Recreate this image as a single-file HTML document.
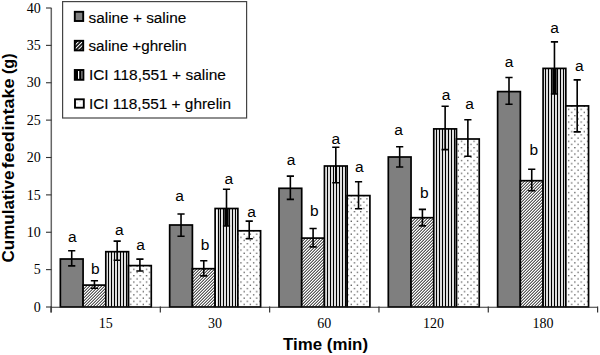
<!DOCTYPE html>
<html><head><meta charset="utf-8"><style>
html,body{margin:0;padding:0;background:#fff;}
svg{display:block;}
.tick{font-family:"Liberation Serif",serif;font-size:14px;fill:#000;}
.lab{font-family:"Liberation Sans",sans-serif;font-size:15.5px;fill:#000;}
.leg{font-family:"Liberation Sans",sans-serif;font-size:14px;fill:#000;stroke:#000;stroke-width:0.12;}
.ttl{font-family:"Liberation Sans",sans-serif;font-size:16.5px;font-weight:bold;fill:#000;}
</style></head><body>
<svg width="600" height="355" viewBox="0 0 600 355">
<defs>
<pattern id="hatch" patternUnits="userSpaceOnUse" x="0" y="0" width="3" height="3">
<rect x="0" y="0" width="3" height="3" fill="#fff"/>
<path d="M1.65 -4L-6.35 4M4.65 -4L-3.35 4M7.65 -4L-0.35 4M10.65 -4L2.65 4" stroke="#000" stroke-width="1.0" fill="none"/>
</pattern>
<pattern id="dots" patternUnits="userSpaceOnUse" x="0" y="-2" width="6.3" height="6.4">
<rect x="0" y="0" width="6.3" height="6.4" fill="#fff"/>
<rect x="1.0" y="1.9" width="1.2" height="1.2" fill="#3a3a3a"/>
<rect x="4.15" y="5.1" width="1.2" height="1.2" fill="#3a3a3a"/>
</pattern>
<pattern id="lhatch" patternUnits="userSpaceOnUse" x="0.8" y="0" width="2.7" height="2.7" patternTransform="rotate(45)">
<rect x="0" y="0" width="2.7" height="2.7" fill="#000"/><rect x="0" y="0" width="1.1" height="2.7" fill="#fff"/>
</pattern>
</defs>
<rect x="0" y="0" width="600" height="355" fill="#fff"/>
<rect x="60.35" y="259.00" width="22.73" height="48.00" fill="#7f7f7f"/>
<rect x="60.35" y="259.00" width="22.73" height="48.00" fill="none" stroke="#000" stroke-width="1.7"/>
<rect x="83.08" y="285.10" width="22.73" height="21.90" fill="url(#hatch)"/>
<rect x="83.08" y="285.10" width="22.73" height="21.90" fill="none" stroke="#000" stroke-width="1.7"/>
<rect x="105.81" y="251.70" width="22.73" height="55.30" fill="#fff"/>
<path d="M108.50 251.70V307.00M111.50 251.70V307.00M114.50 251.70V307.00M117.50 251.70V307.00M120.50 251.70V307.00M123.50 251.70V307.00M126.50 251.70V307.00" stroke="#000" stroke-width="1.25"/>
<rect x="105.81" y="251.70" width="22.73" height="55.30" fill="none" stroke="#000" stroke-width="1.7"/>
<rect x="128.54" y="265.60" width="22.73" height="41.40" fill="url(#dots)"/>
<rect x="128.54" y="265.60" width="22.73" height="41.40" fill="none" stroke="#000" stroke-width="1.7"/>
<rect x="169.67" y="225.00" width="22.73" height="82.00" fill="#7f7f7f"/>
<rect x="169.67" y="225.00" width="22.73" height="82.00" fill="none" stroke="#000" stroke-width="1.7"/>
<rect x="192.40" y="268.70" width="22.73" height="38.30" fill="url(#hatch)"/>
<rect x="192.40" y="268.70" width="22.73" height="38.30" fill="none" stroke="#000" stroke-width="1.7"/>
<rect x="215.13" y="208.50" width="22.73" height="98.50" fill="#fff"/>
<path d="M218.50 208.50V307.00M220.50 208.50V307.00M223.50 208.50V307.00M226.50 208.50V307.00M229.50 208.50V307.00M232.50 208.50V307.00M235.50 208.50V307.00" stroke="#000" stroke-width="1.25"/>
<rect x="215.13" y="208.50" width="22.73" height="98.50" fill="none" stroke="#000" stroke-width="1.7"/>
<rect x="237.86" y="230.80" width="22.73" height="76.20" fill="url(#dots)"/>
<rect x="237.86" y="230.80" width="22.73" height="76.20" fill="none" stroke="#000" stroke-width="1.7"/>
<rect x="278.99" y="188.30" width="22.73" height="118.70" fill="#7f7f7f"/>
<rect x="278.99" y="188.30" width="22.73" height="118.70" fill="none" stroke="#000" stroke-width="1.7"/>
<rect x="301.72" y="238.10" width="22.73" height="68.90" fill="url(#hatch)"/>
<rect x="301.72" y="238.10" width="22.73" height="68.90" fill="none" stroke="#000" stroke-width="1.7"/>
<rect x="324.45" y="166.00" width="22.73" height="141.00" fill="#fff"/>
<path d="M327.50 166.00V307.00M330.50 166.00V307.00M333.50 166.00V307.00M336.50 166.00V307.00M339.50 166.00V307.00M342.50 166.00V307.00M345.50 166.00V307.00" stroke="#000" stroke-width="1.25"/>
<rect x="324.45" y="166.00" width="22.73" height="141.00" fill="none" stroke="#000" stroke-width="1.7"/>
<rect x="347.18" y="195.60" width="22.73" height="111.40" fill="url(#dots)"/>
<rect x="347.18" y="195.60" width="22.73" height="111.40" fill="none" stroke="#000" stroke-width="1.7"/>
<rect x="388.31" y="157.00" width="22.73" height="150.00" fill="#7f7f7f"/>
<rect x="388.31" y="157.00" width="22.73" height="150.00" fill="none" stroke="#000" stroke-width="1.7"/>
<rect x="411.04" y="217.70" width="22.73" height="89.30" fill="url(#hatch)"/>
<rect x="411.04" y="217.70" width="22.73" height="89.30" fill="none" stroke="#000" stroke-width="1.7"/>
<rect x="433.77" y="128.90" width="22.73" height="178.10" fill="#fff"/>
<path d="M436.50 128.90V307.00M439.50 128.90V307.00M442.50 128.90V307.00M445.50 128.90V307.00M448.50 128.90V307.00M451.50 128.90V307.00M454.50 128.90V307.00" stroke="#000" stroke-width="1.25"/>
<rect x="433.77" y="128.90" width="22.73" height="178.10" fill="none" stroke="#000" stroke-width="1.7"/>
<rect x="456.50" y="139.00" width="22.73" height="168.00" fill="url(#dots)"/>
<rect x="456.50" y="139.00" width="22.73" height="168.00" fill="none" stroke="#000" stroke-width="1.7"/>
<rect x="497.63" y="91.60" width="22.73" height="215.40" fill="#7f7f7f"/>
<rect x="497.63" y="91.60" width="22.73" height="215.40" fill="none" stroke="#000" stroke-width="1.7"/>
<rect x="520.36" y="180.70" width="22.73" height="126.30" fill="url(#hatch)"/>
<rect x="520.36" y="180.70" width="22.73" height="126.30" fill="none" stroke="#000" stroke-width="1.7"/>
<rect x="543.09" y="68.40" width="22.73" height="238.60" fill="#fff"/>
<path d="M545.50 68.40V307.00M548.50 68.40V307.00M551.50 68.40V307.00M554.50 68.40V307.00M557.50 68.40V307.00M560.50 68.40V307.00M563.50 68.40V307.00" stroke="#000" stroke-width="1.25"/>
<rect x="543.09" y="68.40" width="22.73" height="238.60" fill="none" stroke="#000" stroke-width="1.7"/>
<rect x="565.82" y="105.90" width="22.73" height="201.10" fill="url(#dots)"/>
<rect x="565.82" y="105.90" width="22.73" height="201.10" fill="none" stroke="#000" stroke-width="1.7"/>
<path d="M68.12 250.80H75.31M71.72 250.80V265.90M68.12 265.90H75.31" stroke="#000" stroke-width="1.6" fill="none"/>
<text x="72.42" y="242.00" text-anchor="middle" class="lab">a</text>
<path d="M90.84 280.70H98.04M94.44 280.70V288.20M90.84 288.20H98.04" stroke="#000" stroke-width="1.6" fill="none"/>
<text x="95.24" y="274.30" text-anchor="middle" class="lab">b</text>
<path d="M113.58 241.10H120.77M117.17 241.10V260.30M113.58 260.30H120.77" stroke="#000" stroke-width="1.6" fill="none"/>
<text x="119.38" y="235.40" text-anchor="middle" class="lab">a</text>
<path d="M136.31 259.10H143.50M139.91 259.10V271.00M136.31 271.00H143.50" stroke="#000" stroke-width="1.6" fill="none"/>
<text x="140.50" y="249.70" text-anchor="middle" class="lab">a</text>
<path d="M177.44 214.00H184.63M181.03 214.00V236.20M177.44 236.20H184.63" stroke="#000" stroke-width="1.6" fill="none"/>
<text x="179.63" y="200.70" text-anchor="middle" class="lab">a</text>
<path d="M200.16 260.70H207.36M203.76 260.70V275.90M200.16 275.90H207.36" stroke="#000" stroke-width="1.6" fill="none"/>
<text x="205.16" y="250.00" text-anchor="middle" class="lab">b</text>
<rect x="224.30" y="208.50" width="4.4" height="17.50" fill="#000"/>
<path d="M222.90 189.30H230.09M226.50 189.30V226.00M222.90 226.00H230.09" stroke="#000" stroke-width="1.6" fill="none"/>
<text x="228.69" y="183.70" text-anchor="middle" class="lab">a</text>
<path d="M245.62 221.10H252.82M249.22 221.10V238.70M245.62 238.70H252.82" stroke="#000" stroke-width="1.6" fill="none"/>
<text x="251.62" y="217.40" text-anchor="middle" class="lab">a</text>
<path d="M286.75 176.10H293.96M290.36 176.10V199.40M286.75 199.40H293.96" stroke="#000" stroke-width="1.6" fill="none"/>
<text x="291.16" y="164.60" text-anchor="middle" class="lab">a</text>
<path d="M309.49 228.50H316.69M313.09 228.50V246.90M309.49 246.90H316.69" stroke="#000" stroke-width="1.6" fill="none"/>
<text x="314.19" y="216.30" text-anchor="middle" class="lab">b</text>
<path d="M332.21 147.30H339.42M335.81 147.30V182.80M332.21 182.80H339.42" stroke="#000" stroke-width="1.6" fill="none"/>
<text x="335.81" y="143.50" text-anchor="middle" class="lab">a</text>
<path d="M354.94 181.70H362.15M358.55 181.70V208.70M354.94 208.70H362.15" stroke="#000" stroke-width="1.6" fill="none"/>
<text x="359.25" y="172.10" text-anchor="middle" class="lab">a</text>
<path d="M396.07 146.80H403.28M399.68 146.80V167.00M396.07 167.00H403.28" stroke="#000" stroke-width="1.6" fill="none"/>
<text x="398.48" y="134.70" text-anchor="middle" class="lab">a</text>
<path d="M418.81 209.40H426.01M422.41 209.40V225.90M418.81 225.90H426.01" stroke="#000" stroke-width="1.6" fill="none"/>
<text x="424.41" y="198.30" text-anchor="middle" class="lab">b</text>
<path d="M441.53 106.20H448.74M445.13 106.20V149.60M441.53 149.60H448.74" stroke="#000" stroke-width="1.6" fill="none"/>
<text x="446.13" y="100.00" text-anchor="middle" class="lab">a</text>
<path d="M464.26 119.70H471.47M467.87 119.70V156.30M464.26 156.30H471.47" stroke="#000" stroke-width="1.6" fill="none"/>
<text x="469.47" y="108.70" text-anchor="middle" class="lab">a</text>
<path d="M505.39 77.50H512.60M509.00 77.50V104.20M505.39 104.20H512.60" stroke="#000" stroke-width="1.6" fill="none"/>
<text x="509.00" y="67.00" text-anchor="middle" class="lab">a</text>
<path d="M528.12 169.30H535.33M531.73 169.30V190.70M528.12 190.70H535.33" stroke="#000" stroke-width="1.6" fill="none"/>
<text x="533.73" y="155.30" text-anchor="middle" class="lab">b</text>
<rect x="552.25" y="68.40" width="4.4" height="25.60" fill="#000"/>
<path d="M550.86 41.90H558.06M554.46 41.90V94.00M550.86 94.00H558.06" stroke="#000" stroke-width="1.6" fill="none"/>
<text x="554.46" y="32.90" text-anchor="middle" class="lab">a</text>
<path d="M573.59 79.90H580.79M577.19 79.90V131.90M573.59 131.90H580.79" stroke="#000" stroke-width="1.6" fill="none"/>
<text x="579.39" y="70.70" text-anchor="middle" class="lab">a</text>
<path d="M51.3 8V312.5" stroke="#666" stroke-width="1.5" fill="none"/>
<path d="M51 307.2H597.6" stroke="#333" stroke-width="1.1" fill="none"/>
<path d="M46 307.00H51.5" stroke="#333" stroke-width="1.1"/>
<text x="40.8" y="311.70" text-anchor="end" class="tick">0</text>
<path d="M46 269.62H51.5" stroke="#333" stroke-width="1.1"/>
<text x="40.8" y="274.32" text-anchor="end" class="tick">5</text>
<path d="M46 232.25H51.5" stroke="#333" stroke-width="1.1"/>
<text x="40.8" y="236.95" text-anchor="end" class="tick">10</text>
<path d="M46 194.88H51.5" stroke="#333" stroke-width="1.1"/>
<text x="40.8" y="199.57" text-anchor="end" class="tick">15</text>
<path d="M46 157.50H51.5" stroke="#333" stroke-width="1.1"/>
<text x="40.8" y="162.20" text-anchor="end" class="tick">20</text>
<path d="M46 120.12H51.5" stroke="#333" stroke-width="1.1"/>
<text x="40.8" y="124.83" text-anchor="end" class="tick">25</text>
<path d="M46 82.75H51.5" stroke="#333" stroke-width="1.1"/>
<text x="40.8" y="87.45" text-anchor="end" class="tick">30</text>
<path d="M46 45.38H51.5" stroke="#333" stroke-width="1.1"/>
<text x="40.8" y="50.08" text-anchor="end" class="tick">35</text>
<path d="M46 8.00H51.5" stroke="#333" stroke-width="1.1"/>
<text x="40.8" y="12.70" text-anchor="end" class="tick">40</text>
<path d="M51.00 306.5V312.5" stroke="#333" stroke-width="1.2"/>
<path d="M160.32 306.5V312.5" stroke="#333" stroke-width="1.2"/>
<path d="M269.64 306.5V312.5" stroke="#333" stroke-width="1.2"/>
<path d="M378.96 306.5V312.5" stroke="#333" stroke-width="1.2"/>
<path d="M488.28 306.5V312.5" stroke="#333" stroke-width="1.2"/>
<path d="M597.60 306.5V312.5" stroke="#333" stroke-width="1.2"/>
<text x="105.66" y="327.8" text-anchor="middle" class="tick">15</text>
<text x="214.98" y="327.8" text-anchor="middle" class="tick">30</text>
<text x="324.30" y="327.8" text-anchor="middle" class="tick">60</text>
<text x="433.62" y="327.8" text-anchor="middle" class="tick">120</text>
<text x="542.94" y="327.8" text-anchor="middle" class="tick">180</text>
<text x="283" y="349.7" class="ttl" textLength="85" lengthAdjust="spacingAndGlyphs">Time (min)</text>
<g transform="translate(13.6 0) rotate(-90)" class="ttl">
<text x="-262.6" y="0" textLength="92" lengthAdjust="spacingAndGlyphs">Cumulative</text>
<text x="-168.5" y="0" textLength="37.5" lengthAdjust="spacingAndGlyphs">feed</text>
<text x="-130.5" y="0" textLength="52" lengthAdjust="spacingAndGlyphs">intake</text>
<text x="-74.1" y="0" textLength="20.8" lengthAdjust="spacingAndGlyphs">(g)</text>
</g>
<rect x="62.6" y="1.6" width="184" height="116.4" fill="#fff" stroke="#444" stroke-width="1.2"/>
<rect x="74.8" y="11.8" width="8.4" height="9.2" fill="#808080" stroke="#000" stroke-width="1.9"/>
<rect x="74.8" y="40.8" width="8.4" height="9.6" fill="url(#lhatch)" stroke="#000" stroke-width="1.9"/>
<rect x="74.8" y="70.0" width="8.6" height="9.8" fill="#000" stroke="#000" stroke-width="1.9"/>
<rect x="78.0" y="71" width="1.2" height="7.8" fill="#fff"/>
<rect x="81.3" y="71" width="1.2" height="7.8" fill="#999"/>
<rect x="75.0" y="99.3" width="8.8" height="8.4" fill="#fff" stroke="#000" stroke-width="1.9"/>
<rect x="76.5" y="102.5" width="1" height="1" fill="#bbb"/>
<rect x="79.5" y="101" width="1" height="1" fill="#ccc"/>
<rect x="80.5" y="104.5" width="1" height="1" fill="#ccc"/>
<text x="88.5" y="22.5" class="leg" textLength="97.8" lengthAdjust="spacingAndGlyphs">saline + saline</text>
<text x="88.5" y="51.0" class="leg" textLength="98.3" lengthAdjust="spacingAndGlyphs">saline +ghrelin</text>
<text x="88.9" y="79.7" class="leg" textLength="137" lengthAdjust="spacingAndGlyphs">ICI 118,551 + saline</text>
<text x="88.9" y="108.7" class="leg" textLength="142.2" lengthAdjust="spacingAndGlyphs">ICI 118,551 + ghrelin</text>
</svg>
</body></html>
